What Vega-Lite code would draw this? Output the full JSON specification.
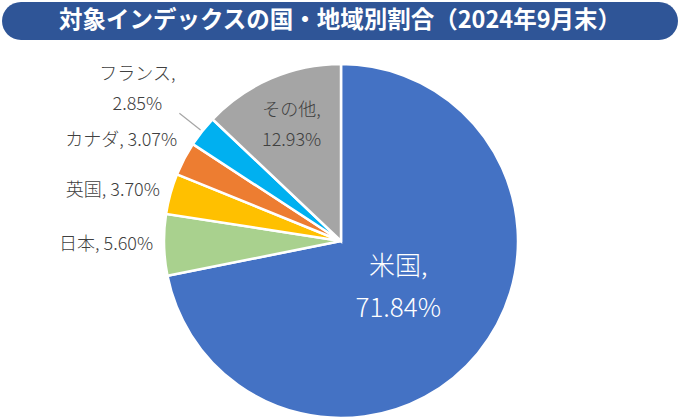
{
  "$schema": "https://vega.github.io/schema/vega-lite/v6.json",
  "background": "white",
  "padding": {"left": 2, "top": 2, "right": 0, "bottom": 0},
  "spacing": 24,
  "bounds": "flush",
  "config": {"view": {"stroke": null}, "font": "Noto Sans CJK JP"},
  "vconcat": [
    {
      "width": 676,
      "height": 38,
      "data": {"values": [{"title": "対象インデックスの国・地域別割合（2024年9月末）"}]},
      "layer": [
        {"mark": {"type": "rect", "color": "#2F5597", "cornerRadius": 19}, "encoding": {}},
        {"mark": {"type": "text", "color": "white", "fontSize": 23.5, "fontWeight": "bold", "font": "Noto Sans CJK JP"}, "encoding": {"text": {"field": "title"}}}
      ]
    },
    {
      "width": 678,
      "height": 354,
      "data": {"values": [
        {"country": "米国", "pct": 71.84, "label": "米国,\n71.84%"},
        {"country": "日本", "pct": 5.60, "label": "日本, 5.60%"},
        {"country": "英国", "pct": 3.70, "label": "英国, 3.70%"},
        {"country": "カナダ", "pct": 3.07, "label": "カナダ, 3.07%"},
        {"country": "フランス", "pct": 2.85, "label": "フランス,\n2.85%"},
        {"country": "その他", "pct": 12.93, "label": "その他,\n12.93%"}
      ]},
      "transform": [
        {"window": [{"op": "row_number", "as": "i"}]}
      ],
      "encoding": {
        "theta": {"field": "pct", "type": "quantitative", "stack": true},
        "order": {"field": "i", "type": "quantitative"}
      },
      "layer": [
        {
          "mark": {"type": "arc", "stroke": "white", "strokeWidth": 2.5},
          "encoding": {
            "color": {"field": "country", "type": "nominal", "legend": null,
              "scale": {"domain": ["米国", "日本", "英国", "カナダ", "フランス", "その他"],
                        "range": ["#4472C4", "#A9D18E", "#FFC000", "#ED7D31", "#00B0F0", "#A5A5A5"]}}
          }
        },
        {
          "mark": {"type": "arc", "radius": 206, "radius2": 179, "padAngle": 0.6, "fill": null, "stroke": "#A6A6A6", "strokeWidth": 1.2},
          "encoding": {"opacity": {"condition": {"test": "datum.country === 'フランス'", "value": 1}, "value": 0}}
        },
        {
          "mark": {"type": "text", "radius": 74, "dy": -21, "fontSize": 26, "color": "white", "lineBreak": "\n", "lineHeight": 42, "font": "Noto Sans CJK JP", "fontWeight": 300},
          "encoding": {"text": {"condition": {"test": "datum.country === '米国'", "field": "label"}, "value": ""}}
        },
        {
          "mark": {"type": "text", "radius": 125, "dy": -15, "fontSize": 18, "color": "#404040", "lineBreak": "\n", "lineHeight": 30, "font": "Noto Sans CJK JP", "fontWeight": 300},
          "encoding": {"text": {"condition": {"test": "datum.country === 'その他'", "field": "label"}, "value": ""}}
        },
        {
          "mark": {"type": "text", "radius": 206, "dx": -42, "dy": -38, "fontSize": 18, "color": "#404040", "lineBreak": "\n", "lineHeight": 30, "align": "center", "font": "Noto Sans CJK JP", "fontWeight": 300},
          "encoding": {"text": {"condition": {"test": "datum.country === 'フランス'", "field": "label"}, "value": ""}}
        },
        {
          "mark": {"type": "text", "radius": 188, "fontSize": 18, "color": "#404040", "align": "right", "font": "Noto Sans CJK JP", "fontWeight": 300},
          "encoding": {"text": {"condition": {"test": "datum.country === '日本' || datum.country === '英国'", "field": "label"}, "value": ""}}
        },
        {
          "mark": {"type": "text", "radius": 185, "dy": -14, "fontSize": 18, "color": "#404040", "align": "right", "font": "Noto Sans CJK JP", "fontWeight": 300},
          "encoding": {"text": {"condition": {"test": "datum.country === 'カナダ'", "field": "label"}, "value": ""}}
        }
      ]
    }
  ]
}
